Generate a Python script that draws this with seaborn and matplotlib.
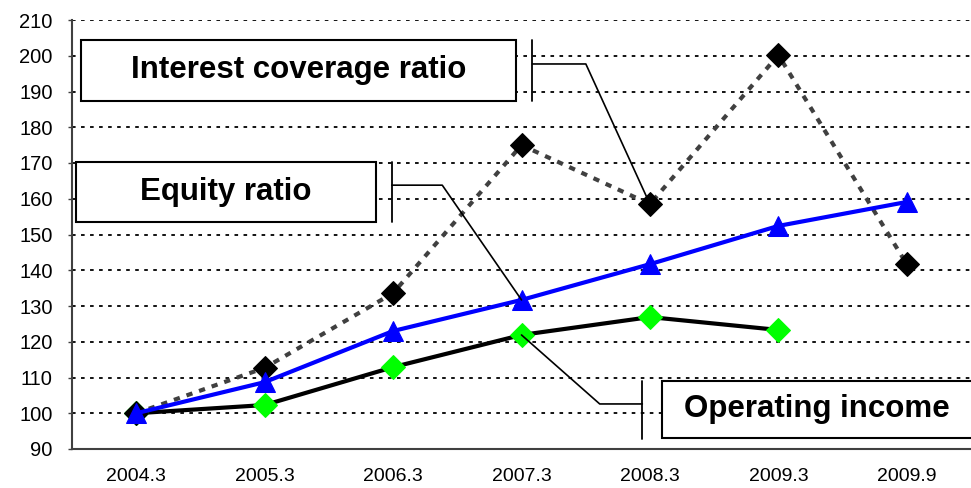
import numpy as np
import pandas as pd
import seaborn as sns
import matplotlib.pyplot as plt
from matplotlib.patches import Rectangle

# ---- data ----
periods = ["2004.3", "2005.3", "2006.3", "2007.3", "2008.3", "2009.3", "2009.9"]
interest_coverage = [100, 112.7, 133.6, 175.0, 158.5, 200.2, 141.7]
equity_ratio = [100, 108.7, 123.0, 131.7, 141.7, 152.4, 159.1]
operating_income = [100, 102.3, 112.9, 121.9, 126.9, 123.3, np.nan]
y_ticks = list(range(90, 211, 10))

sns.set_theme(style="white")
plt.rcParams['font.family'] = ['Liberation Sans', 'DejaVu Sans']
plt.rcParams['text.color'] = 'black'
plt.rcParams['xtick.color'] = 'black'
plt.rcParams['ytick.color'] = 'black'

df = pd.DataFrame({
    "pos": np.arange(len(periods)),
    "icr": interest_coverage,
    "eq": equity_ratio,
    "op": operating_income,
})

fig = plt.figure(figsize=(9.71, 4.88), dpi=100)
ax = fig.add_axes([72 / 971, 39 / 488, (971 - 72) / 971, (449 - 20) / 488])

# gridlines
for v in y_ticks[1:]:
    ax.axhline(v, color="black", lw=1.3, ls=(0, (2, 3)), zorder=1)

sns.lineplot(data=df, x="pos", y="op", color="black", lw=3, marker="D", markersize=12,
             markerfacecolor="#00ff00", markeredgecolor="#00ff00", ax=ax, zorder=3)
sns.lineplot(data=df, x="pos", y="icr", color="#404040", lw=3, marker="D", markersize=12,
             markerfacecolor="black", markeredgecolor="black", ax=ax, zorder=4)
ax.lines[-1].set_dashes([1.5, 1.7])
sns.lineplot(data=df, x="pos", y="eq", color="#0000ff", lw=3, marker="^", markersize=14.5,
             markerfacecolor="#0000ff", markeredgecolor="#0000ff", ax=ax, zorder=5)

ax.set_xlim(-0.5, 6.433)
ax.set_ylim(90, 210)
ax.set_yticks(y_ticks)
ax.set_yticklabels([str(v) for v in y_ticks], fontsize=14.5)
ax.set_xticks(np.arange(len(periods)) + 0.5)
ax.set_xticklabels([])
ax.set_xticks(np.arange(len(periods)), minor=True)
ax.set_xticklabels(periods, minor=True, fontsize=14)
ax.tick_params(axis="x", which="major", length=5, width=1, color="#404040", direction="out")
ax.tick_params(axis="x", which="minor", length=0, pad=14)
ax.tick_params(axis="y", length=3, width=1, color="#404040", direction="out", left=True, pad=11)
ax.set_xlabel("")
ax.set_ylabel("")
for s in ["top", "right"]:
    ax.spines[s].set_visible(False)
for s in ["left", "bottom"]:
    ax.spines[s].set_color("#404040")
    ax.spines[s].set_linewidth(1.5)


def callout(label, box, text_xy, bar_x, bar_y, elbow, target):
    x0, x1, y0, y1 = box
    ax.add_patch(Rectangle((x0, y0), x1 - x0, y1 - y0, fill=True, facecolor="white",
                           edgecolor="black", lw=1.5, zorder=6))
    ax.text(text_xy[0], text_xy[1], label, ha="center", va="center", fontsize=22.5,
            fontweight="bold", color="black", zorder=7)
    ax.plot([bar_x, bar_x], bar_y, color="black", lw=1.3, zorder=6)
    ax.plot([bar_x, elbow[0], target[0]], [elbow[1], elbow[1], target[1]],
            color="black", lw=1.2, zorder=6)


callout("Interest coverage ratio", (-0.432, 2.961, 187.3, 204.4), (1.265, 195.9),
        3.085, (187.3, 204.4), (3.501, 197.7), (4, interest_coverage[4]))
callout("Equity ratio", (-0.470, 1.866, 153.5, 170.3), (0.694, 161.9),
        1.990, (153.5, 170.3), (2.383, 163.8), (3, equity_ratio[3]))
callout("Operating income", (4.095, 6.6, 93.1, 109.0), (5.298, 101.2),
        3.941, (92.8, 109.0), (3.609, 102.6), (3, operating_income[3]))

plt.savefig("out.png", dpi=100)
